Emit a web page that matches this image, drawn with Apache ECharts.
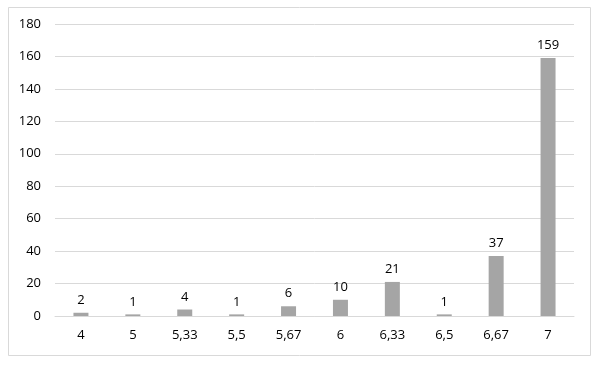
<!DOCTYPE html>
<html>
<head>
<meta charset="utf-8">
<script src="https://cdn.jsdelivr.net/npm/echarts@6/dist/echarts.min.js"></script>
<style>
html,body{margin:0;padding:0;background:#fff;}
#c{width:600px;height:366px;}
</style>
</head>
<body>
<div id="c"></div>
<script>
const categories = ['4','5','5,33','5,5','5,67','6','6,33','6,5','6,67','7'];
const values = [2,1,4,1,6,10,21,1,37,159];
const yMin = 0, yMax = 180, yStep = 20;

const chart = echarts.init(document.getElementById('c'), null, {renderer:'canvas'});
chart.setOption({
  animation:false,
  backgroundColor:'#fff',
  textStyle:{fontFamily:'Open Sans'},
  graphic:[{
    type:'rect',
    shape:{x:8.5,y:7.5,width:582,height:348},
    style:{fill:'none',stroke:'#d9d9d9',lineWidth:1},
    silent:true
  }],
  grid:{left:55,right:26,top:24,bottom:50,containLabel:false},
  xAxis:{
    type:'category',
    data:categories,
    axisLine:{show:true,lineStyle:{color:'#d9d9d9',width:1}},
    axisTick:{show:false},
    axisLabel:{color:'#000',fontSize:13,margin:13,fontFamily:'Open Sans'}
  },
  yAxis:{
    type:'value',
    min:yMin,max:yMax,interval:yStep,
    axisLine:{show:false},
    axisTick:{show:false},
    splitLine:{lineStyle:{color:'#d9d9d9',width:1}},
    axisLabel:{color:'#000',fontSize:13,margin:14,fontFamily:'Open Sans'}
  },
  series:[{
    type:'bar',
    data:values,
    barWidth:15,
    itemStyle:{color:'#a5a5a5'},
    label:{show:true,position:'top',color:'#000',fontSize:13,distance:6,fontFamily:'Open Sans'}
  }]
});
</script>
</body>
</html>
